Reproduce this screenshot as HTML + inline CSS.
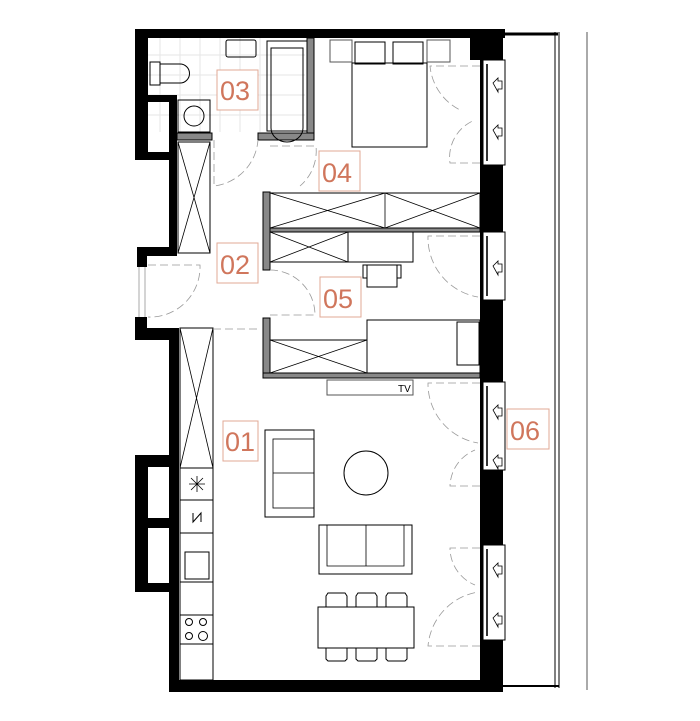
<!DOCTYPE html>
<html><head><meta charset="utf-8"><style>
html,body{margin:0;padding:0;background:#fff;width:700px;height:721px;overflow:hidden}
svg{display:block}
.l{font-family:"Liberation Sans",sans-serif;font-size:27px;fill:#d0765c}
</style></head><body>
<svg width="700" height="721" viewBox="0 0 700 721" xmlns="http://www.w3.org/2000/svg">
<g fill="none" stroke="#e6e6e6" stroke-width="1">
<path d="M148 55H305M148 75H305M148 95H305M148 115H305M160 38V132M180 38V132M200 38V132M220 38V132M240 38V132M260 38V132"/>
</g>
<g fill="#000">
<rect x="135" y="29" width="370" height="9"/>
<rect x="470" y="29" width="33" height="31"/>
<rect x="135" y="29" width="13" height="128"/>
<rect x="148" y="95" width="29" height="7"/>
<rect x="169" y="95" width="8" height="158"/>
<rect x="135" y="152" width="34" height="8"/>
<rect x="137" y="247" width="40" height="9"/>
<rect x="137" y="247" width="10" height="20"/>
<rect x="135" y="317" width="12" height="23"/>
<rect x="135" y="328" width="44" height="12"/>
<rect x="169" y="328" width="10" height="364"/>
<rect x="135" y="455" width="13" height="137"/>
<rect x="135" y="455" width="35" height="12"/>
<rect x="135" y="518" width="35" height="10"/>
<rect x="135" y="583" width="35" height="9"/>
<rect x="169" y="680" width="334" height="12"/>
<rect x="480" y="29" width="23" height="663"/>
</g>
<g fill="#fff" stroke="#000" stroke-width="1">
<rect x="483" y="60" width="22" height="105"/>
<rect x="483" y="232" width="22" height="68"/>
<rect x="483" y="382" width="22" height="88"/>
<rect x="483" y="545" width="22" height="95"/>
</g>
<g stroke="#333" stroke-width="2">
<path d="M487 64V161M487 236V296M487 386V466M487 549V636"/>
</g>
<g fill="none" stroke="#000" stroke-width="0.8">
<path d="M493 83l5 -5v3h4v8h-4v3z M493 130l5 -5v3h4v8h-4v3z M493 266l5 -5v3h4v8h-4v3z M493 410l5 -5v3h4v8h-4v3z M493 460l5 -5v3h4v8h-4v3z M493 568l5 -5v3h4v8h-4v3z M493 618l5 -5v3h4v8h-4v3z"/>
</g>
<g stroke="#aaa" stroke-width="1" fill="none"><path d="M139 267V317M145 267V317"/></g>
<g stroke="#000" fill="none">
<path d="M503 34H558" stroke-width="3"/>
<path d="M555 32V688M559 32V688" stroke-width="1"/>
<path d="M503 686H559" stroke-width="2"/>
<path d="M587 32V690" stroke-width="1" stroke="#555"/>
</g>
<g fill="#888" stroke="#000" stroke-width="1">
<rect x="307" y="38" width="7" height="102"/>
<rect x="258" y="133" width="56" height="7"/>
<rect x="177" y="133" width="35" height="7"/>
<rect x="263" y="192" width="7" height="78"/>
<rect x="270" y="228" width="210" height="4"/>
<rect x="263" y="318" width="7" height="60"/>
<rect x="263" y="373" width="217" height="5"/>
</g>
<g fill="none" stroke="#000" stroke-width="1">
<rect x="226" y="40" width="30" height="17" rx="2"/>
<rect x="150" y="62" width="10" height="23"/>
<path d="M160 64h20a9 9 0 0 1 0 19h-20z"/>
<rect x="178" y="100" width="32" height="32"/>
<circle cx="194" cy="116" r="10"/>
<rect x="267" y="41" width="40" height="90"/>
<path d="M271 128V48h32v80a16 14 0 0 1 -32 0z"/>
<rect x="330" y="40" width="22" height="22" stroke="#555"/>
<rect x="427" y="40" width="23" height="22" stroke="#555"/>
<rect x="355" y="42" width="30" height="22"/>
<rect x="393" y="42" width="30" height="22"/>
<rect x="352" y="63" width="75" height="84"/>
<rect x="270" y="193" width="210" height="35"/>
<path d="M385 193V228M270 193L385 228M270 228L385 193M385 193L480 228M385 228L480 193" stroke-width="0.8"/>
<rect x="270" y="232" width="78" height="30"/>
<path d="M270 232L348 262M270 262L348 232" stroke-width="0.8"/>
<rect x="348" y="232" width="65" height="30"/>
<rect x="367" y="265" width="30" height="22"/>
<rect x="363" y="265" width="4" height="13"/>
<rect x="397" y="265" width="4" height="13"/>
<rect x="367" y="320" width="113" height="53"/>
<rect x="457" y="322" width="22" height="43"/>
<rect x="270" y="340" width="97" height="33"/>
<path d="M270 340L367 373M270 373L367 340" stroke-width="0.8"/>
<rect x="178" y="142" width="32" height="111"/>
<path d="M178 142L210 253M210 142L178 253" stroke-width="0.8"/>
<rect x="180" y="328" width="33" height="352"/>
<path d="M180 328L213 468M213 328L180 468" stroke-width="0.8"/>
<path d="M180 468H213M180 500H213M180 533H213M180 582H213M180 615H213M180 644H213"/>
<path d="M189 484h16M197 476v16M191 478l12 12M203 478l-12 12" stroke-width="0.8"/>
<path d="M193 513v9l8-9v9" stroke-width="1"/>
<rect x="185" y="552" width="24" height="27"/>
<circle cx="189" cy="622" r="3.5"/><circle cx="203" cy="622" r="3.5"/><circle cx="189" cy="636" r="3.5"/><circle cx="203" cy="636" r="4.5"/>
<rect x="327" y="380" width="86" height="15" stroke="#555"/>
<rect x="265" y="430" width="49" height="87"/>
<rect x="273" y="439" width="41" height="69" stroke-width="0.8"/>
<path d="M273 473H314" stroke-width="0.8"/>
<circle cx="366" cy="473" r="22"/>
<rect x="319" y="525" width="93" height="49"/>
<path d="M327 525V566H404V525M366 525V566" stroke-width="0.8"/>
<rect x="318" y="607" width="96" height="41"/>
<path d="M326 607v-11l2-3h17l2 3v11M356 607v-11l2-3h17l2 3v11M386 607v-11l2-3h17l2 3v11"/>
<path d="M326 648v11l2 2h17l2-2v-11M356 648v11l2 2h17l2-2v-11M386 648v11l2 2h17l2-2v-11"/>
</g>
<text x="398" y="392" font-family="Liberation Sans,sans-serif" font-size="10" fill="#000">TV</text>
<g fill="none" stroke="#999" stroke-width="0.8" stroke-dasharray="8 4">
<path d="M214 140V186A50 50 0 0 0 258 140"/>
<path d="M270 146H316A46 46 0 0 1 300 186"/>
<path d="M148 265H200A50 50 0 0 1 148 317"/>
<path d="M270 270A45 45 0 0 1 315 315H270"/>
<path d="M480 66H430A55 55 0 0 0 460 110"/>
<path d="M480 163H450A40 40 0 0 1 475 120"/>
<path d="M480 236H428A60 60 0 0 0 478 297"/>
<path d="M480 383H428A60 60 0 0 0 478 443"/>
<path d="M480 486H450A40 40 0 0 1 475 450"/>
<path d="M480 548H450A40 40 0 0 0 475 585"/>
<path d="M480 646H428A60 60 0 0 1 478 592"/>
<path d="M213 329H260"/>
</g>
<g fill="#fff" stroke="#e0a896" stroke-width="1">
<rect x="217" y="70" width="41" height="40"/>
<rect x="319" y="151" width="41" height="40"/>
<rect x="217" y="243" width="41" height="40"/>
<rect x="320" y="277" width="41" height="40"/>
<rect x="223" y="421" width="35" height="40"/>
<rect x="507" y="409" width="42" height="40"/>
</g>
<text class="l" x="220" y="100">03</text>
<text class="l" x="322" y="182">04</text>
<text class="l" x="220" y="274">02</text>
<text class="l" x="323" y="308">05</text>
<text class="l" x="225" y="451">01</text>
<text class="l" x="510" y="440">06</text>
</svg>
</body></html>
